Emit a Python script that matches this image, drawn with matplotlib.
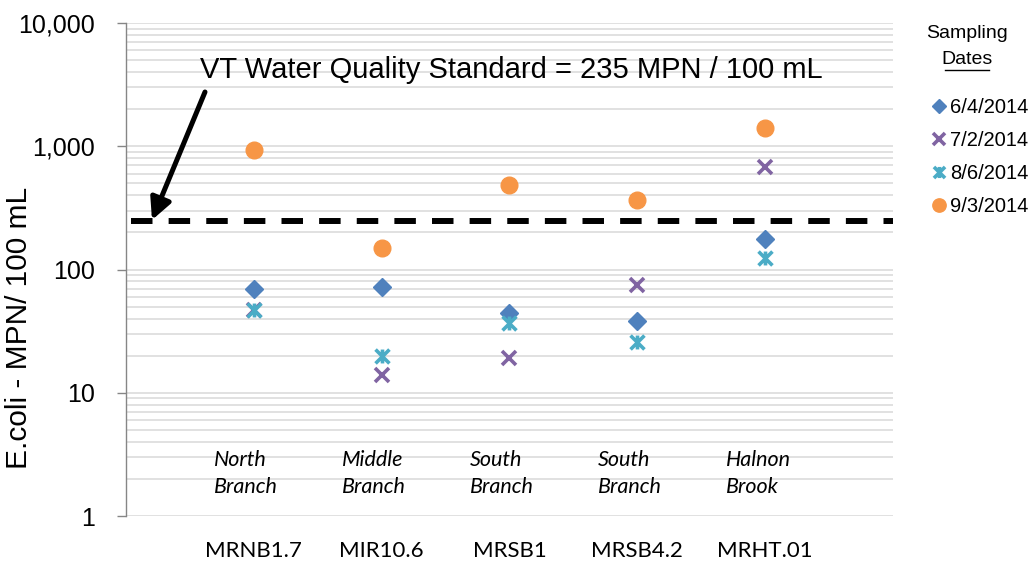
import matplotlib
matplotlib.use("Agg")
import matplotlib.pyplot as plt
from matplotlib.path import Path
from matplotlib.ticker import FixedLocator, FuncFormatter
import numpy as np

# data
sites = ["MRNB1.7", "MIR10.6", "MRSB1", "MRSB4.2", "MRHT.01"]
site_names = ["North\nBranch", "Middle\nBranch", "South\nBranch", "South\nBranch", "Halnon\nBrook"]
dates = ["6/4/2014", "7/2/2014", "8/6/2014", "9/3/2014"]
ecoli_jun4 = [70, 72, 44, 38, 176]
ecoli_jul2 = [47, 14, 19, 75, 680]
ecoli_aug6 = [47, 20, 37, 26, 124]
ecoli_sep3 = [930, 149, 484, 365, 1400]
standard_line = 248   # drawn position of the dashed line
yticks = [1, 10, 100, 1000, 10000]

# excel-style "star" marker: an x with a vertical bar
star = Path([(-1, -1), (1, 1), (-1, 1), (1, -1), (0, -1), (0, 1)],
            [Path.MOVETO, Path.LINETO, Path.MOVETO, Path.LINETO, Path.MOVETO, Path.LINETO])

plt.rcParams['font.family'] = ['Liberation Sans', 'DejaVu Sans']

fig = plt.figure(figsize=(10.35, 5.61), dpi=100)
ax = fig.add_axes([0.1217, 0.0802, 0.8628 - 0.1217, 0.959 - 0.0802])

x = np.arange(1, len(sites) + 1)
ax.plot(x, ecoli_jun4, ls='none', marker='D', ms=9.5, color='#4F81BD', label=dates[0], zorder=4)
ax.plot(x, ecoli_jul2, ls='none', marker='x', ms=10, mew=2.6, color='#8064A2', label=dates[1], zorder=3)
ax.plot(x, ecoli_aug6, ls='none', marker=star, ms=10, mew=2.6, color='#4BACC6', label=dates[2], zorder=5)
ax.plot(x, ecoli_sep3, ls='none', marker='o', ms=12, color='#F79646', label=dates[3], zorder=4)

ax.axhline(standard_line, xmin=0.006, xmax=1, color='black', lw=4.3,
           ls=(0, (3.6, 2.7)), zorder=6)

ax.set_yscale('log')
ax.set_ylim(1, 10000)
ax.set_xlim(0, 6)

minor = [m * 10 ** e for e in range(0, 4) for m in range(2, 10)]
ax.yaxis.set_minor_locator(FixedLocator(minor))
ax.yaxis.set_major_locator(FixedLocator(yticks))
ax.yaxis.set_major_formatter(FuncFormatter(lambda v, p: f"{int(v):,}"))
ax.yaxis.set_minor_formatter(FuncFormatter(lambda v, p: ""))
ax.grid(True, which='both', axis='y', color='#D9D9D9', lw=1.1)
ax.set_axisbelow(True)

for s in ['top', 'right', 'bottom']:
    ax.spines[s].set_visible(False)
ax.spines['left'].set_color('#868686')
ax.spines['left'].set_linewidth(1.0)
ax.tick_params(axis='y', which='major', length=6.5, width=1, color='#868686',
               labelsize=18, pad=16)
ax.tick_params(axis='y', which='minor', length=0)

ax.set_xticks(x)
ax.set_xticklabels(sites, fontfamily='Lato', fontsize=16)
ax.tick_params(axis='x', length=0, pad=18)

ax.set_ylabel("E.coli - MPN/ 100 mL", fontsize=21.5)
ax.yaxis.set_label_coords(-0.121, 0.381)

# site names in italics under the points
for xi, name in zip(x, site_names):
    ax.text(xi - 0.31, 2.22, name, fontfamily='Lato', style='italic', fontsize=15.5,
            ha='left', va='center', linespacing=1.45)

# standard annotation with arrow
fig.text(0.193, 0.875, "VT Water Quality Standard = 235 MPN / 100 mL",
         fontsize=21, ha='left', va='center')
ax.annotate("", xy=(152 / 1035, 1 - 220 / 561), xycoords='figure fraction',
            xytext=(205 / 1035, 1 - 92 / 561), textcoords='figure fraction',
            arrowprops=dict(arrowstyle='-|>', lw=3.6, color='black',
                            mutation_scale=32, shrinkA=0, shrinkB=0))

# legend
fig.text(967 / 1035, 1 - 33 / 561, "Sampling", fontsize=14, ha='center', va='center')
fig.text(967 / 1035, 1 - 59 / 561, "Dates", fontsize=14, ha='center', va='center')
fig.add_artist(plt.Line2D([945 / 1035, 989 / 1035], [1 - 70 / 561, 1 - 70 / 561],
                          color='black', lw=1.0))
ax.legend(loc='upper left', bbox_to_anchor=(932 / 1035, 1 - 98 / 561),
          bbox_transform=fig.transFigure, frameon=False, fontsize=14.5,
          handlelength=0.7, handletextpad=0.2, labelspacing=0.7,
          borderpad=0, borderaxespad=0, markerscale=0.8)

fig.savefig("out.png", dpi=100)
